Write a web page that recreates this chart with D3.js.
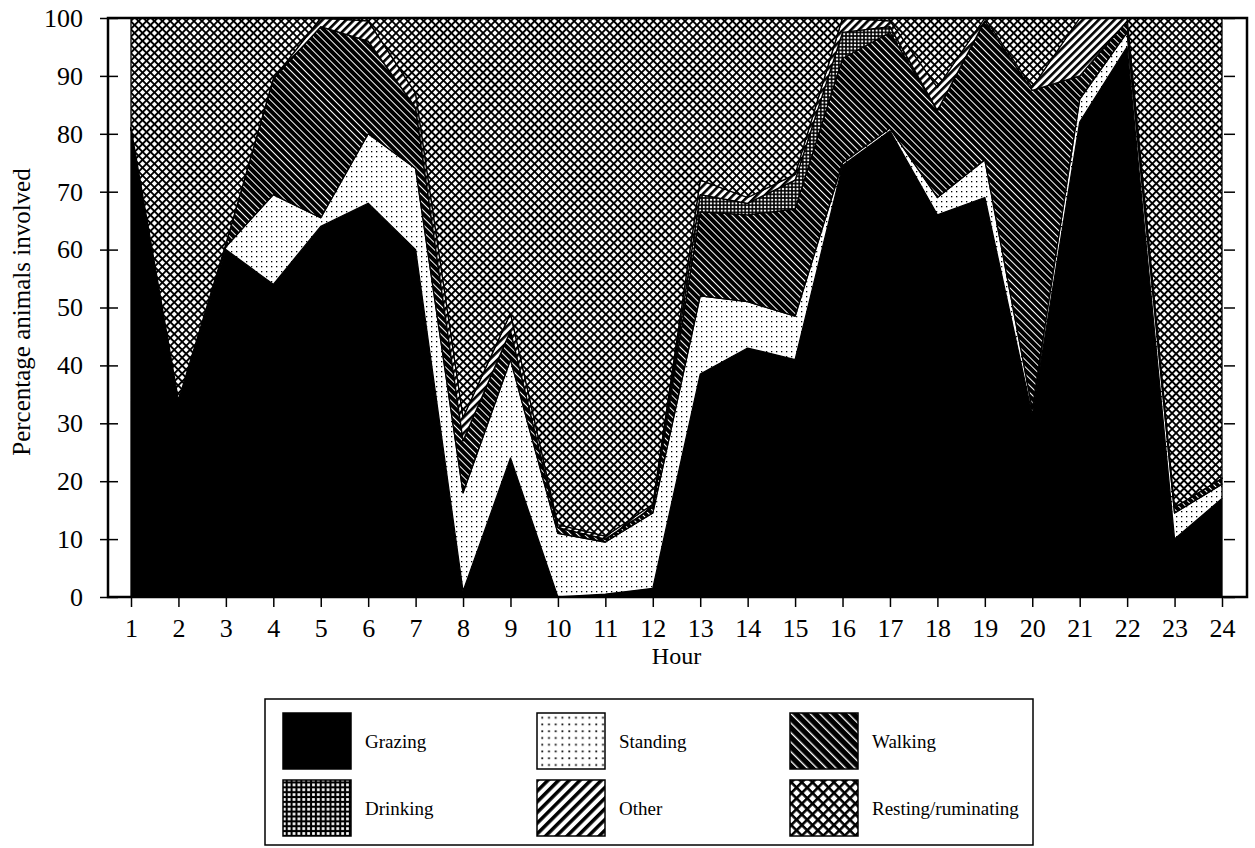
<html>
<head>
<meta charset="utf-8">
<title>Activity by hour</title>
<script src="https://d3js.org/d3.v7.min.js"></script>
<style>
  body { margin: 0; background: #fff; }
  text { font-family: "Liberation Serif", "Times New Roman", serif; fill: #000; }
  .axis path { display: none; }
  .axis line { stroke: #000; stroke-width: 1.5px; }
  .axis text { font-size: 26px; }
</style>
</head>
<body>
<div id="chart"></div>
<script type="text/javascript">
// hour of day
var hours = [1, 2, 3, 4, 5, 6, 7, 8, 9, 10, 11, 12, 13, 14, 15, 16, 17, 18, 19, 20, 21, 22, 23, 24];

// percentage of animals per activity
var grazing  = [81, 34, 60, 54, 64, 68, 60, 1, 24, 0, 0.5, 1.5, 38.5, 43, 41, 74.5, 80.5, 66, 69, 31.5, 82, 95, 10, 17];
var standing = [0, 0, 0.5, 15.5, 1.5, 12, 14, 17, 17, 11, 9, 13, 13.5, 8, 7.5, 0.5, 0.5, 3, 6.5, 1, 4, 2.5, 4.5, 2.5];
var walking  = [0, 0, 0.5, 20, 33, 16, 10.5, 9, 5, 1, 0.5, 1, 14.5, 15, 18.5, 18, 16.5, 15, 24, 55, 4, 2, 1, 1];
var drinking = [0, 0, 0, 0, 0, 0, 0, 0, 0, 0, 0, 0, 3, 2, 5, 4.5, 1, 0, 0, 0, 0, 0, 0, 0];
var other    = [0, 0, 0, 0, 1.5, 3.5, 2.5, 4, 3, 0.5, 0.5, 0.5, 2.5, 1, 1, 2.5, 1, 4, 0.5, 0.5, 10, 0.5, 0, 0];
var resting  = [19, 66, 39, 10.5, 0, 0.5, 13, 69, 51, 87.5, 89.5, 84, 28, 31, 27, 0, 0.5, 12, 0, 12, 0, 0, 84.5, 79.5];

var keys = ["grazing", "standing", "walking", "drinking", "other", "resting"];
var labels = ["Grazing", "Standing", "Walking", "Drinking", "Other", "Resting/ruminating"];
var yTicks = [0, 10, 20, 30, 40, 50, 60, 70, 80, 90, 100];

var rows = hours.map(function (h, i) {
    return { hour: h, grazing: grazing[i], standing: standing[i], walking: walking[i],
             drinking: drinking[i], other: other[i], resting: resting[i] };
});

var width = 1255, height = 848;
var svg = d3.select("#chart").append("svg")
    .attr("width", width).attr("height", height);

// fill patterns, black and white like the printed figure
var defs = svg.append("defs");

function makePatterns(prefix, s) {
    var p = defs.append("pattern").attr("id", prefix + "standing").attr("patternUnits", "userSpaceOnUse")
        .attr("width", 5).attr("height", 5).attr("patternTransform", "scale(" + s + ")");
    p.append("rect").attr("width", 5).attr("height", 5).attr("fill", "#fff");
    p.append("rect").attr("x", 1).attr("y", 1).attr("width", 1.3).attr("height", 1.3).attr("fill", "#000");

    p = defs.append("pattern").attr("id", prefix + "walking").attr("patternUnits", "userSpaceOnUse")
        .attr("width", 5).attr("height", 5).attr("patternTransform", "rotate(-45) scale(" + s + ")");
    p.append("rect").attr("width", 5).attr("height", 5).attr("fill", "#000");
    p.append("rect").attr("x", 0).attr("width", 1).attr("height", 5).attr("fill", "#fff");

    p = defs.append("pattern").attr("id", prefix + "drinking").attr("patternUnits", "userSpaceOnUse")
        .attr("width", 3.6).attr("height", 3.6).attr("patternTransform", "scale(" + s + ")");
    p.append("rect").attr("width", 3.6).attr("height", 3.6).attr("fill", "#000");
    p.append("rect").attr("x", 0.8).attr("y", 0.8).attr("width", 2).attr("height", 2).attr("fill", "#fff");

    p = defs.append("pattern").attr("id", prefix + "other").attr("patternUnits", "userSpaceOnUse")
        .attr("width", 5.6).attr("height", 5.6).attr("patternTransform", "rotate(45) scale(" + s + ")");
    p.append("rect").attr("width", 5.6).attr("height", 5.6).attr("fill", "#fff");
    p.append("rect").attr("x", 0).attr("width", 2.6).attr("height", 5.6).attr("fill", "#000");

    p = defs.append("pattern").attr("id", prefix + "resting").attr("patternUnits", "userSpaceOnUse")
        .attr("width", 5.6).attr("height", 5.6).attr("patternTransform", "rotate(45) scale(" + s + ")");
    p.append("rect").attr("width", 5.6).attr("height", 5.6).attr("fill", "#fff");
    p.append("rect").attr("x", 0).attr("width", 1.9).attr("height", 5.6).attr("fill", "#000");
    p.append("rect").attr("y", 0).attr("width", 5.6).attr("height", 1.9).attr("fill", "#000");
}
makePatterns("p-", 1);
makePatterns("lg-", 1.35);

function fillFor(prefix, k) {
    return k === "grazing" ? "#000" : "url(#" + prefix + k + ")";
}

var x = d3.scaleLinear().domain([1, 24]).range([131, 1222]);
var y = d3.scaleLinear().domain([0, 100]).range([597, 18]);

var series = d3.stack().keys(keys)(rows);

var area = d3.area()
    .x(function (d) { return x(d.data.hour); })
    .y0(function (d) { return y(d[0]); })
    .y1(function (d) { return y(d[1]); });

svg.append("g").selectAll("path").data(series).enter().append("path")
    .attr("d", area)
    .attr("fill", function (d) { return fillFor("p-", d.key); })
    .attr("stroke", "#000")
    .attr("stroke-width", 1.3)
    .attr("stroke-linejoin", "round");

// frame around plot
svg.append("rect").attr("x", 108).attr("y", 18).attr("width", 1139).attr("height", 579)
    .attr("fill", "none").attr("stroke", "#000").attr("stroke-width", 2.5);

svg.append("g").attr("class", "axis").attr("transform", "translate(118,0)")
    .call(d3.axisLeft(y).tickValues(yTicks).tickSizeInner(18).tickSizeOuter(0).tickPadding(17));

svg.append("g").attr("class", "axis").attr("transform", "translate(1224,0)")
    .call(d3.axisRight(y).tickValues(yTicks).tickSizeInner(11).tickSizeOuter(0).tickFormat(""));

svg.append("g").attr("class", "axis").attr("transform", "translate(0,597)")
    .call(d3.axisBottom(x).tickValues(hours).tickFormat(d3.format("d")).tickSizeInner(10).tickSizeOuter(0).tickPadding(12));

svg.append("text").attr("x", x(12.5)).attr("y", 664).attr("text-anchor", "middle")
    .style("font-size", "24px").text("Hour");

svg.append("text").attr("transform", "translate(30,312) rotate(-90)").attr("text-anchor", "middle")
    .style("font-size", "25px").text("Percentage animals involved");

// legend
var legend = svg.append("g");
legend.append("rect").attr("x", 265).attr("y", 699).attr("width", 768).attr("height", 146)
    .attr("fill", "#fff").attr("stroke", "#000").attr("stroke-width", 1.5);

var colX = [283, 537, 790], rowY = [713, 780];
keys.forEach(function (k, i) {
    var cx = colX[i % 3], cy = rowY[Math.floor(i / 3)];
    legend.append("rect").attr("x", cx).attr("y", cy).attr("width", 68).attr("height", 56)
        .attr("fill", fillFor("lg-", k)).attr("stroke", "#000").attr("stroke-width", 1.5);
    legend.append("text").attr("x", cx + 82).attr("y", cy + 35)
        .style("font-size", "19px").text(labels[i]);
});
</script>
</body>
</html>
